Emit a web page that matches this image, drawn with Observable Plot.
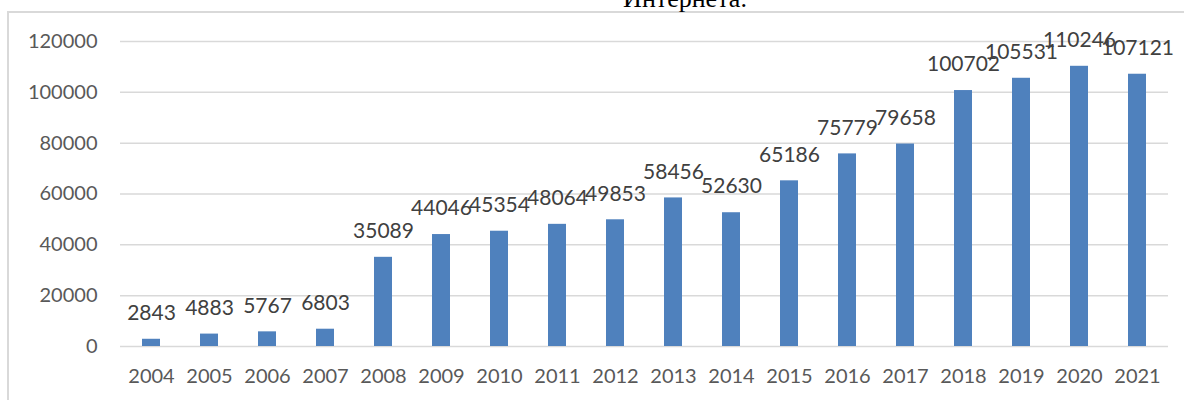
<!DOCTYPE html>
<html>
<head>
<meta charset="utf-8">
<script src="https://cdn.jsdelivr.net/npm/d3@7"></script>
<script src="https://cdn.jsdelivr.net/npm/@observablehq/plot@0.6"></script>
<style>
  body { margin: 0; background: #fff; }
  #wrap { position: relative; width: 1184px; height: 400px; overflow: hidden; }
  #title { position: absolute; left: 0; width: 1184px; top: -16px; text-align: center; padding-left: 186px; box-sizing: border-box;
           font-family: "Liberation Serif", "DejaVu Serif", serif; font-size: 26px; color: #000; line-height: 30px; }
  #frame { position: absolute; left: 7px; top: 11px; width: 1300px; height: 500px; border: 2px solid #d9d9d9; }
  #chart { position: absolute; left: 0; top: 0; }
</style>
</head>
<body>
<div id="wrap">
  <div id="frame"></div>
  <div id="title">Интернета.</div>
  <div id="chart"></div>
</div>
<script>
const years = ["2004","2005","2006","2007","2008","2009","2010","2011","2012","2013","2014","2015","2016","2017","2018","2019","2020","2021"];
const values = [2843,4883,5767,6803,35089,44046,45354,48064,49853,58456,52630,65186,75779,79658,100702,105531,110246,107121];
const yTicks = [0,20000,40000,60000,80000,100000,120000];

const data = years.map((y, i) => ({year: y, value: values[i]}));

const chart = Plot.plot({
  width: 1184,
  height: 400,
  marginLeft: 120,
  marginRight: 16,
  marginTop: 41,
  marginBottom: 54,
  style: {fontFamily: "Lato, sans-serif", fontSize: "20px", background: "transparent"},
  x: {domain: years, paddingInner: 0.69, paddingOuter: 0.345, label: null},
  y: {domain: [0, 120000], label: null},
  marks: [
    Plot.gridY(yTicks, {stroke: "#d9d9d9", strokeWidth: 1.5, strokeOpacity: 1}),
    Plot.barY(data, {x: "year", y: "value", fill: "#4f81bd"}),
    Plot.axisY(yTicks, {tickSize: 0, tickPadding: 23, tickFormat: d => String(d), fill: "#595959", fontSize: 20, label: null}),
    Plot.axisX({tickSize: 0, tickPadding: 22, fill: "#595959", fontSize: 20, label: null}),
    Plot.text(data, {x: "year", y: "value", text: d => String(d.value), dy: -26, fill: "#404040", fontSize: 21, lineAnchor: "middle"})
  ]
});
document.getElementById("chart").appendChild(chart);
</script>
</body>
</html>
